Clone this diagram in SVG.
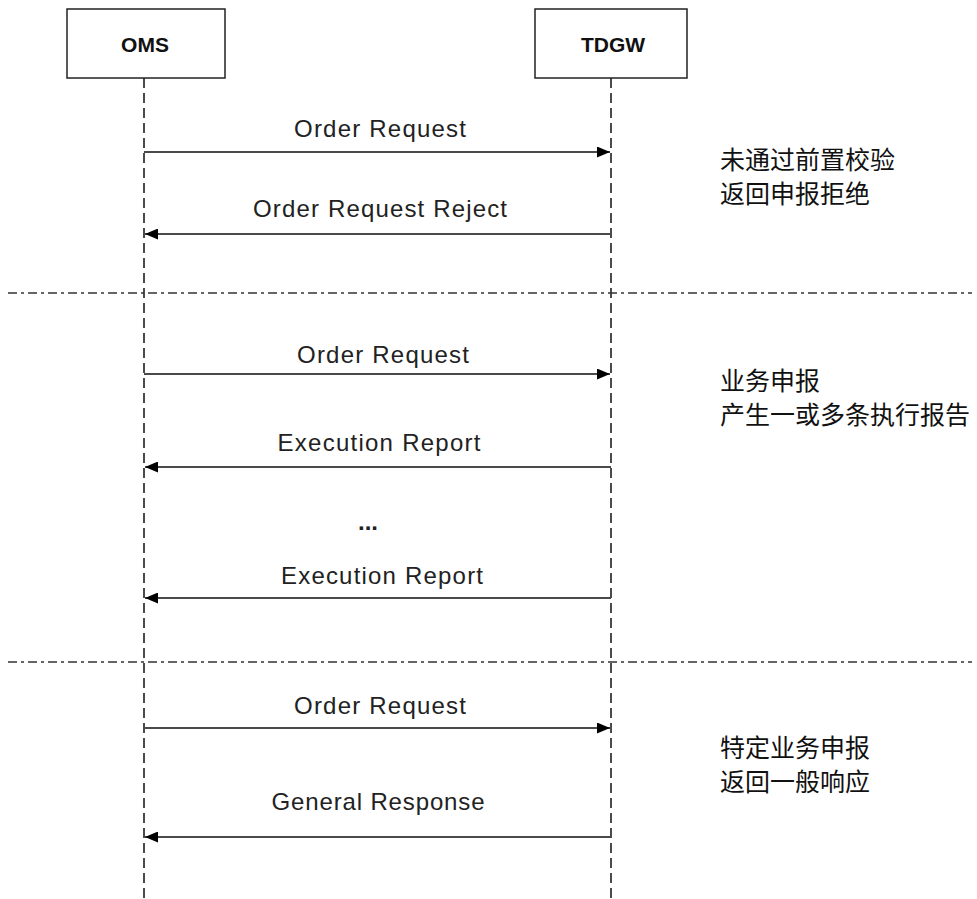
<svg xmlns="http://www.w3.org/2000/svg" width="977" height="899" viewBox="0 0 977 899">
<style>
.box{fill:#fff;stroke:#222;stroke-width:1.5}
.hdr{font-family:"Liberation Sans",Arial,sans-serif;font-weight:bold;font-size:21px;fill:#111;text-anchor:middle}
.life{stroke:#111;stroke-width:1.5;stroke-dasharray:10 5}
.msg{stroke:#4a4a4a;stroke-width:2;fill:none}
.lbl{font-family:"Liberation Sans",Arial,sans-serif;font-size:24px;fill:#222;text-anchor:middle}
.note{font-family:"Noto Sans CJK SC","Noto Sans",sans-serif;font-size:25px;fill:#111}
.sep{stroke:#333;stroke-width:1.5;stroke-dasharray:9 4 3 4}
</style>
<defs>
<marker id="ah" viewBox="0 0 13 11" refX="13" refY="5.5" markerWidth="13" markerHeight="11" markerUnits="userSpaceOnUse" orient="auto">
<path d="M0,0 L13,5.5 L0,11 Z" fill="#000"/>
</marker>
</defs>
<rect width="977" height="899" fill="#fff"/>
<g id="oms">
<line class="life" x1="144" y1="78" x2="144" y2="899"/>
<rect class="box" x="67" y="9" width="158" height="69"/>
<text class="hdr" x="145" y="52">OMS</text>
</g>
<g id="tdgw">
<line class="life" x1="611" y1="78" x2="611" y2="899"/>
<rect class="box" x="535" y="9" width="152" height="69"/>
<text class="hdr" x="613" y="52">TDGW</text>
</g>
<g id="separators">
<line class="sep" x1="8" y1="293" x2="972" y2="293"/>
<line class="sep" x1="8" y1="662" x2="972" y2="662"/>
</g>
<g id="connectors">
<line class="msg" x1="144" y1="152" x2="610" y2="152" marker-end="url(#ah)"/>
<line class="msg" x1="611" y1="234" x2="145" y2="234" marker-end="url(#ah)"/>
<line class="msg" x1="144" y1="374" x2="610" y2="374" marker-end="url(#ah)"/>
<line class="msg" x1="611" y1="467" x2="145" y2="467" marker-end="url(#ah)"/>
<line class="msg" x1="611" y1="598" x2="145" y2="598" marker-end="url(#ah)"/>
<line class="msg" x1="144" y1="728" x2="610" y2="728" marker-end="url(#ah)"/>
<line class="msg" x1="611" y1="837" x2="145" y2="837" marker-end="url(#ah)"/>
</g>
<g id="labels">
<text class="lbl" x="380" y="137" textLength="172">Order Request</text>
<text class="lbl" x="380" y="217" textLength="254">Order Request Reject</text>
<text class="lbl" x="383" y="363" textLength="172">Order Request</text>
<text class="lbl" x="379" y="451" textLength="203">Execution Report</text>
<text class="lbl" x="368" y="530" font-weight="bold">...</text>
<text class="lbl" x="382" y="584" textLength="202">Execution Report</text>
<text class="lbl" x="380" y="714" textLength="172">Order Request</text>
<text class="lbl" x="378" y="810" textLength="213">General Response</text>
</g>
<g id="notes">
<text class="note" x="720" y="169">未通过前置校验</text>
<text class="note" x="720" y="203">返回申报拒绝</text>
<text class="note" x="720" y="390">业务申报</text>
<text class="note" x="720" y="424">产生一或多条执行报告</text>
<text class="note" x="720" y="757">特定业务申报</text>
<text class="note" x="720" y="791">返回一般响应</text>
</g>
</svg>
